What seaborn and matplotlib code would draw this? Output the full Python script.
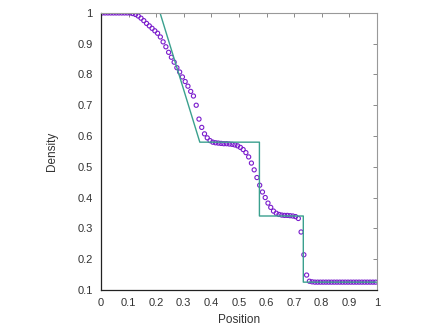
import numpy as np
import matplotlib
matplotlib.use("Agg")
import matplotlib.pyplot as plt
import seaborn as sns

# simulated density, cell centres 0.005 .. 0.995
cell_x = np.arange(100) * 0.01 + 0.005
density = [
    1.000, 1.000, 1.000, 1.000, 1.000, 1.000, 1.000, 1.000, 1.000, 1.000,
    1.000, 0.998, 0.995, 0.990, 0.983, 0.975, 0.966, 0.958, 0.950, 0.942,
    0.934, 0.922, 0.906, 0.890, 0.872, 0.856, 0.840, 0.822, 0.808, 0.792,
    0.777, 0.762, 0.745, 0.730, 0.700, 0.655, 0.628, 0.607, 0.594, 0.585,
    0.580, 0.578, 0.577, 0.576, 0.575, 0.575, 0.574, 0.573, 0.571, 0.568,
    0.563, 0.556, 0.546, 0.532, 0.512, 0.490, 0.465, 0.440, 0.418, 0.400,
    0.382, 0.368, 0.356, 0.349, 0.345, 0.343, 0.342, 0.342, 0.341, 0.340,
    0.338, 0.332, 0.288, 0.214, 0.148, 0.128, 0.126, 0.125, 0.125, 0.125,
    0.125, 0.125, 0.125, 0.125, 0.125, 0.125, 0.125, 0.125, 0.125, 0.125,
    0.125, 0.125, 0.125, 0.125, 0.125, 0.125, 0.125, 0.125, 0.125, 0.125,
]

# exact solution (piecewise)
exact_x = [0.0, 0.214, 0.358, 0.574, 0.574, 0.733, 0.733, 1.0]
exact_rho = [1.0, 1.0, 0.58, 0.58, 0.34, 0.34, 0.125, 0.125]

sns.set_style("white")
plt.rcParams['font.family'] = ['Liberation Sans', 'DejaVu Sans']

fig = plt.figure(figsize=(4.43, 3.32), dpi=100)
ax = fig.add_axes([0.228, 0.127, 0.623, 0.834])

sns.lineplot(x=exact_x, y=exact_rho, ax=ax, color='#3aa08e', linewidth=1.0,
             sort=False, estimator=None)
sns.scatterplot(x=cell_x, y=density, ax=ax, marker='o', s=9,
                facecolors='none', edgecolor='#7a1ccc', linewidth=0.8)

ax.set_xlim(0, 1)
ax.set_ylim(0.1, 1)
ax.set_xticks(np.round(np.arange(0, 1.01, 0.1), 1))
ax.set_xticklabels(['0', '0.1', '0.2', '0.3', '0.4', '0.5', '0.6', '0.7', '0.8', '0.9', '1'])
ax.set_yticks(np.round(np.arange(0.1, 1.01, 0.1), 1))
ax.set_yticklabels(['0.1', '0.2', '0.3', '0.4', '0.5', '0.6', '0.7', '0.8', '0.9', '1'])
ax.tick_params(direction='in', length=3, width=0.6, colors='#777777',
               labelcolor='#333333', labelsize=8, top=True, right=True,
               pad=6)
for side in ['top', 'right']:
    ax.spines[side].set_color('#999999')
    ax.spines[side].set_linewidth(0.8)
for side in ['left', 'bottom']:
    ax.spines[side].set_color('#222222')
    ax.spines[side].set_linewidth(0.9)

ax.set_xlabel('Position', fontsize=8.5, color='#333333', labelpad=4)
ax.set_ylabel('Density', fontsize=8.5, color='#333333', labelpad=14)

fig.savefig('out.png', dpi=100)
